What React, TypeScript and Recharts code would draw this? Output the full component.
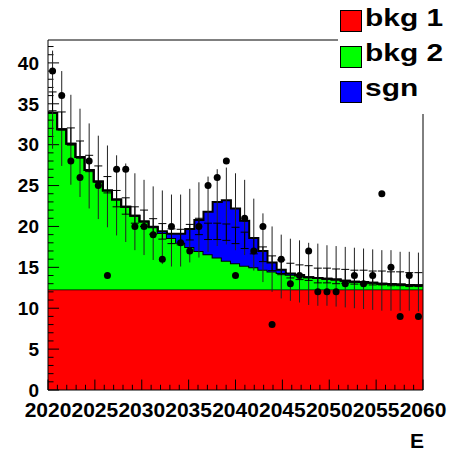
import { ComposedChart, Area, Scatter, ErrorBar, XAxis, YAxis, ReferenceLine, ReferenceArea } from "recharts";

const X_MIN = 2020;
const X_MAX = 2060;
const Y_MAX = 42.8;

// stacked histogram contents, 41 bins over [2020, 2060]
const bkg1 = [
  12.3, 12.3, 12.3, 12.3, 12.3, 12.3, 12.3, 12.3, 12.3, 12.3,
  12.3, 12.3, 12.3, 12.3, 12.3, 12.3, 12.3, 12.3, 12.3, 12.3,
  12.3, 12.3, 12.3, 12.3, 12.3, 12.3, 12.3, 12.3, 12.3, 12.3,
  12.3, 12.3, 12.3, 12.3, 12.3, 12.3, 12.3, 12.3, 12.3, 12.3,
  12.3,
];
const bkg2 = [
  21.6, 19.6, 17.8, 16.2, 14.6, 13.2, 12.1, 11.0, 10.1, 9.0,
  8.3, 7.6, 6.9, 6.3, 5.7, 5.2, 4.7, 4.3, 3.9, 3.5,
  3.2, 2.9, 2.7, 2.4, 2.2, 2.0, 1.8, 1.7, 1.5, 1.4,
  1.3, 1.2, 1.05, 0.95, 0.9, 0.8, 0.7, 0.65, 0.6, 0.55,
  0.5,
];
const sgn = [
  0, 0, 0, 0, 0, 0, 0, 0, 0, 0,
  0, 0.05, 0.2, 0.5, 1.1, 2.2, 3.8, 5.2, 6.8, 7.4,
  6.7, 5.5, 3.6, 2.3, 1.1, 0.4, 0.15, 0.05, 0, 0,
  0, 0, 0, 0, 0, 0, 0, 0, 0, 0,
  0,
];

// observed points
const observed = [
  39, 36, 28, 26, 28, 25, 14, 27, 27, 20,
  20, 19, 16, 20, 18, 17, 20, 25, 26, 28,
  14, 21, 17, 20, 8, 16, 13, 14, 17, 12,
  12, 12, 13, 14, 13, 14, 24, 15, 9, 14,
  9,
];

// long vertical error lines
const lineMid = [
  35.5, 33.2, 30.6, 29.0, 27.4, 26.0, 24.9, 23.8, 22.9, 21.8,
  21.1, 20.4, 19.9, 19.5, 19.5, 20.1, 20.8, 21.5, 22.3, 22.5,
  21.8, 21.1, 19.0, 17.4, 16.0, 15.1, 14.7, 14.5, 14.2, 14.1,
  14.0, 13.9, 13.8, 13.7, 13.6, 13.5, 13.4, 13.4, 13.3, 13.3,
  13.2,
];
const lineErr = [
  6.0, 5.8, 5.5, 5.4, 5.2, 5.1, 5.0, 4.9, 4.8, 4.7,
  4.6, 4.5, 4.5, 4.4, 4.4, 4.5, 4.6, 4.6, 4.7, 4.7,
  4.7, 4.6, 4.4, 4.2, 4.0, 3.9, 3.8, 3.8, 3.8, 3.8,
  3.7, 3.7, 3.7, 3.7, 3.7, 3.7, 3.7, 3.7, 3.6, 3.6,
  3.6,
];

// short end dashes
const dashMid = [
  35.3, 32.9, 31.0, 29.4, 27.7, 26.4, 25.1, 23.4, 22.5, 21.4,
  21.0, 20.0, 19.4, 18.8, 18.7, 19.3, 20.0, 19.4, 19.4, 19.3,
  18.9, 18.3, 17.6, 16.6, 15.5, 15.0, 14.6, 14.4, 14.3, 14.0,
  14.0, 13.9, 13.9, 13.8, 13.8, 13.7, 13.7, 13.6, 13.6, 13.5,
  13.5,
];
const dashErr = [
  1.15, 1.1, 1.05, 1.05, 1.0, 1.0, 1.0, 1.0, 1.0, 1.0,
  1.0, 0.95, 0.95, 0.9, 0.95, 0.95, 1.0, 1.0, 1.0, 1.0,
  1.0, 1.0, 0.95, 0.9, 0.9, 0.9, 0.9, 0.9, 0.9, 0.9,
  0.9, 0.9, 0.85, 0.85, 0.85, 0.85, 0.85, 0.85, 0.85, 0.85,
  0.85,
];

const xTicks = [2020, 2025, 2030, 2035, 2040, 2045, 2050, 2055, 2060];
const yTicks = [0, 5, 10, 15, 20, 25, 30, 35, 40];
const seriesNames = ["bkg 1", "bkg 2", "sgn"];
const seriesColors = ["#ff0000", "#00ff00", "#0000ff"];

const FONT = "'Liberation Sans', Arial, Helvetica, sans-serif";

const nBins = observed.length;
const binW = (X_MAX - X_MIN) / nBins;
const centre = (i: number) => X_MIN + (i + 0.5) * binW;

const stackRows = Array.from({ length: nBins + 1 }, (_, k) => {
  const i = Math.min(k, nBins - 1);
  return { x: X_MIN + k * binW, b1: bkg1[i], b2: bkg2[i], s: sgn[i] };
});
const dataPts = observed.map((y, i) => ({ x: centre(i), y }));
const linePts = lineMid.map((y, i) => ({ x: centre(i), y, e: lineErr[i] }));
const dashPts = dashMid.map((y, i) => ({ x: centre(i), y, e: dashErr[i] }));

const minorX = Array.from({ length: X_MAX - X_MIN + 1 }, (_, i) => X_MIN + i);
const minorY = Array.from({ length: 43 }, (_, i) => i);

const noShape = () => <g />;
const dot = (p: any) => <circle cx={p.cx} cy={p.cy} r={3.5} fill="#000" />;

export default function App() {
  const tickStyle = { fontSize: 21, fontWeight: "bold", fill: "#000", fontFamily: FONT };
  return (
    <div style={{ position: "absolute", left: 0, top: 0, width: 451, height: 455, background: "#fff", fontFamily: FONT }}>
      <ComposedChart width={451} height={455} data={stackRows} margin={{ top: 40, right: 28, bottom: 0, left: 0 }}>
        <XAxis
          dataKey="x"
          type="number"
          domain={[X_MIN, X_MAX]}
          allowDataOverflow
          ticks={xTicks}
          interval={0}
          height={65}
          axisLine={false}
          tickLine={false}
          tickSize={0}
          tickMargin={12}
          tick={tickStyle}
        />
        <YAxis
          type="number"
          domain={[0, Y_MAX]}
          allowDataOverflow
          ticks={yTicks}
          interval={0}
          width={48}
          axisLine={false}
          tickLine={false}
          tickSize={0}
          tickMargin={9}
          tick={{ ...tickStyle, fontSize: 19 }}
        />
        <Area dataKey="b1" stackId="st" type="stepAfter" fill={seriesColors[0]} fillOpacity={1} stroke="#000" strokeWidth={1.5} dot={false} activeDot={false} isAnimationActive={false} />
        <Area dataKey="b2" stackId="st" type="stepAfter" fill={seriesColors[1]} fillOpacity={1} stroke="#000" strokeWidth={2} dot={false} activeDot={false} isAnimationActive={false} />
        <Area dataKey="s" stackId="st" type="stepAfter" fill={seriesColors[2]} fillOpacity={1} stroke="#000" strokeWidth={2} dot={false} activeDot={false} isAnimationActive={false} />
        <ReferenceArea x1={X_MIN} x2={X_MAX} y1={0} y2={Y_MAX} fill="none" stroke="#000" strokeWidth={1} ifOverflow="visible" />
        {minorX.map((v) => (
          <ReferenceLine
            key={"tx" + v}
            segment={[{ x: v, y: 0 }, { x: v, y: (v - X_MIN) % 5 === 0 ? 1.28 : 0.64 }]}
            stroke="#000"
            strokeWidth={1}
          />
        ))}
        {minorY.map((v) => (
          <ReferenceLine
            key={"ty" + v}
            segment={[{ x: X_MIN, y: v }, { x: X_MIN + (v % 5 === 0 ? 1.18 : 0.59), y: v }]}
            stroke="#000"
            strokeWidth={1}
          />
        ))}
        <Scatter data={linePts} dataKey="y" shape={noShape} legendType="none" isAnimationActive={false}>
          <ErrorBar dataKey="e" direction="y" width={0} stroke="#222" strokeWidth={1} isAnimationActive={false} />
        </Scatter>
        <Scatter data={dashPts} dataKey="y" shape={noShape} legendType="none" isAnimationActive={false}>
          <ErrorBar dataKey="e" direction="y" width={4} stroke="#000" strokeWidth={1} isAnimationActive={false} />
        </Scatter>
        <Scatter data={dataPts} dataKey="y" shape={dot} legendType="none" isAnimationActive={false} />
      </ComposedChart>

      <div style={{ position: "absolute", left: 338, top: 0, width: 113, height: 114, background: "#fff" }}>
        {seriesNames.map((name, i) => (
          <div key={name}>
            <div
              style={{
                position: "absolute",
                left: 2,
                top: 10 + i * 35.5,
                width: 22,
                height: 22,
                boxSizing: "border-box",
                border: "1px solid #000",
                background: seriesColors[i],
              }}
            />
            <div
              style={{
                position: "absolute",
                left: 27,
                top: 6.4 + i * 35,
                fontSize: 23,
                lineHeight: "24px",
                fontWeight: "bold",
                whiteSpace: "nowrap",
                transform: "scaleX(1.3)",
                transformOrigin: "left center",
              }}
            >
              {name}
            </div>
          </div>
        ))}
      </div>

      <div style={{ position: "absolute", left: 410, top: 430, fontSize: 21, lineHeight: "21px", fontWeight: "bold" }}>E</div>
    </div>
  );
}
